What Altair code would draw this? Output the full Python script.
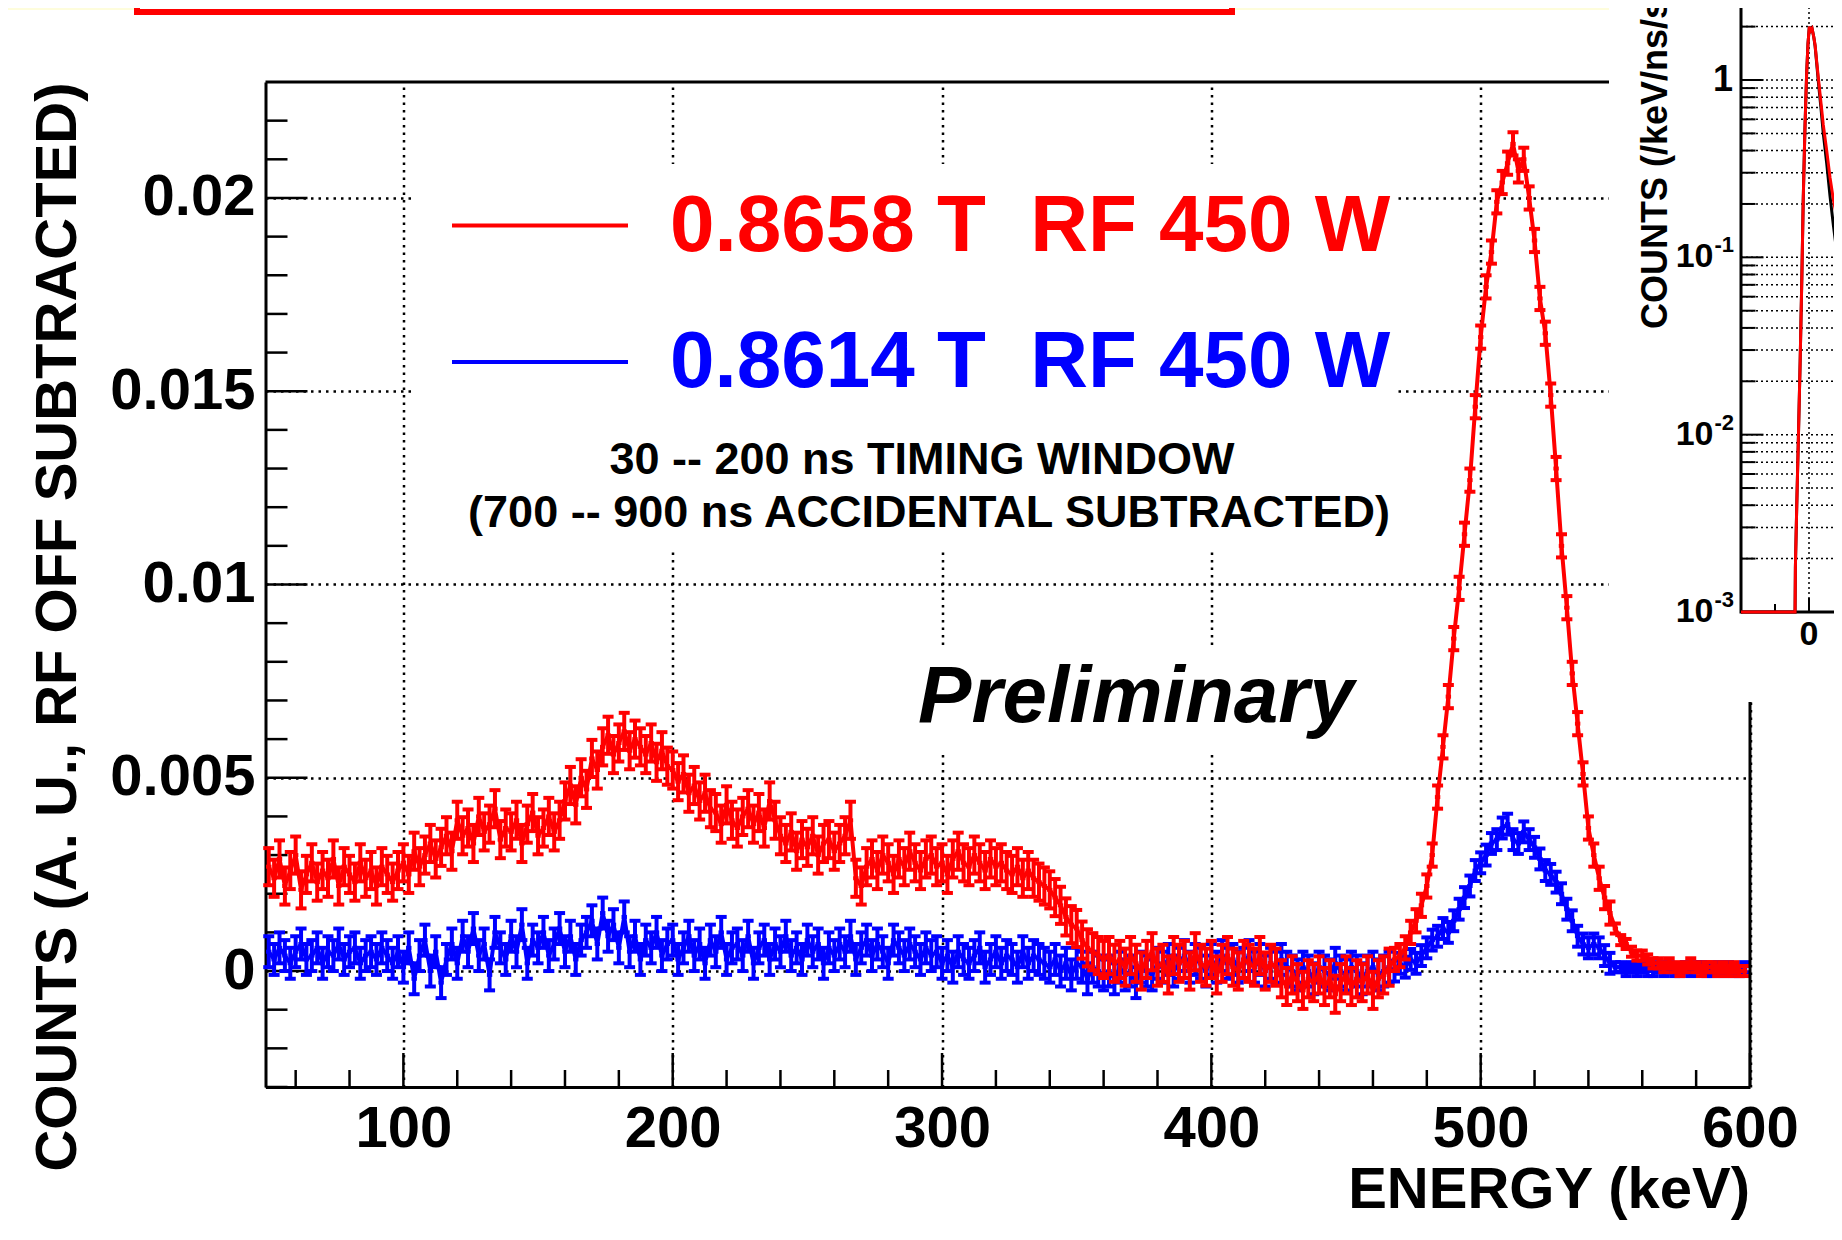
import altair as alt
import numpy as np
import pandas as pd

FONT = "Liberation Sans"

# ---------------- main spectrum data ----------------
x_domain = [48.8, 600.0]          # ENERGY (keV)
y_domain = [-0.003, 0.0230]       # COUNTS
bin_start = 50.0                  # first bin centre (keV)
bin_width = 2.0                   # keV
count_unit = 1e-4                 # values below are in units of 1e-4

# 0.8658 T  RF 450 W  (red)
red_counts = [
    27, 24, 29, 22, 26, 30, 21, 25, 28, 23, 26, 24, 29, 22, 27, 25, 23, 28, 24, 26, 22, 27, 25, 23, 26,
    28, 25, 31, 27, 30, 33, 29, 32, 35, 31,
    39, 35, 37, 33, 40, 36, 38, 42, 34, 37, 36, 39, 33, 38, 41, 35, 37, 40, 36, 39,
    44, 48, 43, 50, 47,
    55, 52, 58, 61, 56, 59, 62, 57, 60, 58,
    56, 59, 54, 57, 53,
    52, 49, 51, 46, 48, 44, 46, 42,
    41, 38, 43, 39, 37, 40, 42, 38, 41, 37, 44, 39,
    35, 33, 36, 31, 34, 32, 35, 30, 33, 34, 31, 33, 35,
    39, 24, 22,
    27, 29, 26, 30, 28, 25, 29, 27, 31, 28, 26, 29, 30, 27, 28, 25, 29, 31, 28, 27, 30, 28, 26, 29, 27, 28, 26,
    25, 27, 24, 26, 24, 23, 22,
    21, 19, 17, 14, 12, 11, 8, 6,
    5, 4, 3, 4, 2,
    3, 1, 4, 2, 0, 3, 5, 1, 2, -1, 4, 2, 3, 0, 5, 2, 1, 3, -1, 2, 4, 1, 0, 3, 2, 1, 4, 0, 2, 1,
    -2, -4, -1, -3, -5, -2, -3, -1, -4, -2, -6, -3, -1, -4, -2, -3, -1, -5, -2, -1, 1, 3,
    4, 6, 10, 13, 17, 22, 30, 45, 58, 71,
    86, 99, 113, 127, 146, 164, 177, 186, 199, 204,
    209, 214, 207, 210, 200, 189, 174, 165, 149, 130,
    110, 94, 77, 64, 51, 37, 30, 24, 19, 15,
    11, 8, 7, 5, 4, 4, 3, 2, 2, 1,
    2, 1, 0, 1, 2, 1, 0, 1, 1, 0, 1, 0, 1, 0, 0,
]

# 0.8614 T  RF 450 W  (blue)
blue_counts = [
    5, 3, 6, 4, 2, 5, 7, 3, 4, 6, 2, 5, 4, 7, 3, 5, 6, 2, 4, 5, 3, 6, 4, 2, 5,
    1, 6, -2, 4, 8, 0, 5, -3, 3, 7,
    2, 9, 5, 11, 4, 7, -1, 10, 6, 3, 9, 5, 12, 2, 8, 6, 10, 4, 7, 11, 5, 9, 3, 8, 10,
    13, 7, 15, 9, 12, 6, 14,
    5, 9, 3, 8, 6, 10, 4, 7,
    8, 3, 6, 9, 4, 7, 2, 8, 5, 10, 3, 6, 7, 4, 9, 2, 6, 8, 3, 7, 5, 9, 4, 6, 3, 8, 5, 7, 2, 6, 4,
    7, 5, 9, 3, 6, 8, 4, 7, 5, 2, 8, 6, 4, 7, 5, 3, 6, 4, 5,
    2, 4, 1, 5, 3, 2, 4, 6, 1, 3, 5, 2, 4, 3, 1, 5, 2, 4, 3, 2,
    1, 3, 0, 2, -1, 2, 1, -2, 1, 0,
    -1, 0, -2, 1, -1, 0, -3, 1, 0, -1,
    2, 1, 3, 0, 2, 4, 1, 3, 2, 0, 3, 1, 4, 2, 3, 1, 2, 4, 1, 3, 0, 2, 1, 3, 1,
    0, -1, 1, 0, -2, 1, 0, -1, 2, 0, -1, 1, 0, -2, 0, 1, -1, 0,
    1, 0, 2, 1, 3, 2,
    4, 6, 8, 9, 11, 10,
    13, 16, 19, 22, 26,
    28, 30, 33, 34, 37, 38,
    34, 33, 36, 34, 32,
    29, 26, 25, 23, 20,
    16, 13, 9, 7, 6,
    7, 6, 4,
    2, 1, 1, 0,
    1, 0, 1, 0, 0, 1, 0, 1, 0, 0, 1, 0, 1, 1, 0, 0, 1, 0, 1, 0, 0, 1,
]

# error-bar half lengths (units of 1e-4) per energy region
err_breaks = [468, 550]
red_err_levels = [4.8, 3.0, 1.3]
blue_err_levels = [4.0, 2.7, 1.3]

y_major = [0, 0.005, 0.01, 0.015, 0.02]
y_minor = [-0.003, -0.002, -0.001, 0.001, 0.002, 0.003, 0.004, 0.006, 0.007, 0.008, 0.009,
           0.011, 0.012, 0.013, 0.014, 0.016, 0.017, 0.018, 0.019, 0.021, 0.022]
x_major = [100, 200, 300, 400, 500, 600]
x_minor = [60, 80, 120, 140, 160, 180, 220, 240, 260, 280, 320, 340, 360, 380,
           420, 440, 460, 480, 520, 540, 560, 580]

legend_red = "0.8658 T\u00a0 RF 450 W"
legend_blue = "0.8614 T\u00a0 RF 450 W"
note_1 = "30 -- 200 ns TIMING WINDOW"
note_2 = "(700 -- 900 ns ACCIDENTAL SUBTRACTED)"
prelim = "Preliminary"
x_title = "ENERGY (keV)"
y_title = "COUNTS (A. U., RF OFF SUBTRACTED)"

# ---------------- inset (timing spectrum, partly visible) ----------------
inset_t = [-200, -41, -40, -36, -31, -26, -21, -17, -12, -7, -3, 1, 5, 9, 14, 18, 23, 27,
           35, 42, 52, 62, 72, 81, 90, 97, 110, 125]
inset_red = [0.001, 0.001, 0.0018, 0.004, 0.010, 0.026, 0.078, 0.21, 0.53, 1.08, 1.6, 2.0,
             1.9, 1.95, 1.75, 1.57, 1.25, 1.05, 0.75, 0.56, 0.40, 0.28, 0.21, 0.17, 0.15,
             0.14, 0.12, 0.10]
inset_black = [0.001, 0.001, 0.0018, 0.004, 0.010, 0.026, 0.078, 0.21, 0.53, 1.08, 1.6, 2.0,
               1.9, 1.95, 1.75, 1.55, 1.22, 1.0, 0.70, 0.50, 0.34, 0.22, 0.15, 0.11, 0.085,
               0.07, 0.055, 0.045]
inset_decades = [0.001, 0.01, 0.1, 1]
inset_minor = [m * d for d in [0.001, 0.01, 0.1, 1] for m in range(2, 10)]
inset_exp_vals = [0.001, 0.01, 0.1]
inset_exp_text = ["-3", "-2", "-1"]
inset_title = "COUNTS (/keV/ns/s)"

# ---------------- geometry (plot-area pixels) ----------------
W, H = 1484.5, 1005

XS = alt.Scale(domain=x_domain, nice=False, zero=False)
YS = alt.Scale(domain=y_domain, nice=False, zero=False)
IX = alt.Scale(domain=[-200, 300], range=[1475.5, 1645.5], nice=False, zero=False)
IY = alt.Scale(type="log", domain=[0.001, 1], range=[530, -2], nice=False)

one = pd.DataFrame({"k": [0]})


def hist_df(counts, levels):
    n = len(counts)
    E = bin_start + bin_width * np.arange(n)
    v = np.array(counts, dtype=float) * count_unit
    e = np.array(levels)[np.digitize(E, err_breaks)] * count_unit
    return pd.DataFrame({"E": E, "lo": E - bin_width / 2, "hi": E + bin_width / 2,
                         "v": v, "vlo": v - e, "vhi": v + e})


def series_layers(df, color):
    base = alt.Chart(df)
    line = base.mark_line(color=color, strokeWidth=4).encode(
        x=alt.X("E:Q", scale=XS, axis=None), y=alt.Y("v:Q", scale=YS, axis=None))
    hbar = base.mark_rule(color=color, strokeWidth=4).encode(
        x=alt.X("lo:Q", scale=XS, axis=None), x2="hi:Q",
        y=alt.Y("v:Q", scale=YS, axis=None))
    vbar = base.mark_rule(color=color, strokeWidth=4).encode(
        x=alt.X("E:Q", scale=XS, axis=None),
        y=alt.Y("vlo:Q", scale=YS, axis=None), y2="vhi:Q")
    cap_lo = base.mark_tick(color=color, thickness=4, size=11, orient="horizontal", opacity=1).encode(
        x=alt.X("E:Q", scale=XS, axis=None), y=alt.Y("vlo:Q", scale=YS, axis=None))
    cap_hi = base.mark_tick(color=color, thickness=4, size=11, orient="horizontal", opacity=1).encode(
        x=alt.X("E:Q", scale=XS, axis=None), y=alt.Y("vhi:Q", scale=YS, axis=None))
    return [line, hbar, vbar, cap_lo, cap_hi]


def text_layer(txt, x, y, size, color="black", align="left", baseline="middle",
               angle=None, italic=False):
    kw = dict(text=txt, font=FONT, fontSize=size, fontWeight="bold", color=color,
              align=align, baseline=baseline)
    if angle is not None:
        kw["angle"] = angle
    if italic:
        kw["fontStyle"] = "italic"
    return alt.Chart(one).mark_text(**kw).encode(x=alt.value(x), y=alt.value(y))


def rect_layer(x, x2, y, y2, fill, stroke=None, sw=0):
    kw = dict(color=fill)
    if stroke:
        kw = dict(fill=fill, stroke=stroke, strokeWidth=sw)
    return alt.Chart(one).mark_rect(**kw).encode(
        x=alt.value(x), x2=alt.value(x2), y=alt.value(y), y2=alt.value(y2))


def hline(x, x2, y, color="black", sw=3):
    return alt.Chart(one).mark_rule(color=color, strokeWidth=sw).encode(
        x=alt.value(x), x2=alt.value(x2), y=alt.value(y))


def vline(x, y, y2, color="black", sw=3):
    return alt.Chart(one).mark_rule(color=color, strokeWidth=sw).encode(
        x=alt.value(x), y=alt.value(y), y2=alt.value(y2))


common_axis = dict(labelFont=FONT, labelFontSize=58, labelFontWeight="bold", labelColor="black",
                   labelFlush=False, labelOverlap=False, ticks=False, tickSize=0,
                   domain=True, domainColor="black", domainWidth=3,
                   grid=True, gridColor="black", gridWidth=2.5, gridDash=[2.5, 5], gridOpacity=1,
                   title=None)
x_axis = alt.Axis(values=x_major, format="d", labelPadding=13, orient="bottom", **common_axis)
y_axis = alt.Axis(values=y_major, format="~g", labelPadding=10.5, orient="left", **common_axis)

# axis ticks (ROOT style, pointing inward)
xmaj = alt.Chart(pd.DataFrame({"t": x_major})).mark_rule(color="black", strokeWidth=2.5).encode(
    x=alt.X("t:Q", scale=XS, axis=x_axis), y=alt.value(H), y2=alt.value(H - 34))
xmin = alt.Chart(pd.DataFrame({"t": x_minor})).mark_rule(color="black", strokeWidth=2.5).encode(
    x=alt.X("t:Q", scale=XS, axis=None), y=alt.value(H), y2=alt.value(H - 17))
ymaj = alt.Chart(pd.DataFrame({"t": y_major})).mark_rule(color="black", strokeWidth=2.5).encode(
    y=alt.Y("t:Q", scale=YS, axis=y_axis), x=alt.value(0), x2=alt.value(42))
ymin = alt.Chart(pd.DataFrame({"t": y_minor})).mark_rule(color="black", strokeWidth=2.5).encode(
    y=alt.Y("t:Q", scale=YS, axis=None), x=alt.value(0), x2=alt.value(22))

red_df = hist_df(red_counts, red_err_levels)
blue_df = hist_df(blue_counts, blue_err_levels)

layers = [
    xmaj, ymaj, xmin, ymin,
    rect_layer(-270, 1343.5, -80, -72, "#FEFDDC"),                 # page header band
    rect_layer(-128.5, 966.5, -150, -70, "white", "#FF0000", 6),   # red header box
    rect_layer(145.5, 1132.5, 82, 470, "white"),                   # legend pad
    rect_layer(639.5, 1099.5, 563, 670, "white"),                  # "Preliminary" pad
]
layers += series_layers(blue_df, "#0000FF")
layers += series_layers(red_df, "#FF0000")
layers += [
    hline(0, 1343.5, 0, sw=3),                 # frame top
    vline(W, 620, H, sw=3),                    # frame right
    hline(186.5, 362.5, 143.5, color="#FF0000", sw=4),
    hline(186.5, 362.5, 280, color="#0000FF", sw=4),
    text_layer(legend_red, 404.5, 145, 80, color="#FF0000"),
    text_layer(legend_blue, 404.5, 281, 80, color="#0000FF"),
    text_layer(note_1, 656.5, 378, 45, align="center"),
    text_layer(note_2, 663.5, 431, 45, align="center"),
    text_layer(prelim, 870.5, 640, 80, align="center", baseline="alphabetic", italic=True),
    text_layer(x_title, W, 1109, 58, align="right"),
    text_layer(y_title, -206.5, 545, 58, align="center", angle=270),
]

# ---------------- inset layers ----------------
inset_df = pd.DataFrame({"t": inset_t, "red": inset_red, "black": inset_black})
layers += [
    rect_layer(1343.5, 1620, -90, 620, "white"),
    alt.Chart(pd.DataFrame({"g": inset_decades + inset_minor})).mark_rule(
        color="black", strokeWidth=1.5, strokeDash=[2, 3]).encode(
        y=alt.Y("g:Q", scale=IY, axis=None), x=alt.value(1475.5), x2=alt.value(1620)),
    alt.Chart(pd.DataFrame({"t": [0]})).mark_rule(
        color="black", strokeWidth=1.5, strokeDash=[2, 3]).encode(
        x=alt.X("t:Q", scale=IX, axis=None), y=alt.value(-90), y2=alt.value(530)),
    alt.Chart(pd.DataFrame({"g": inset_decades})).mark_rule(color="black", strokeWidth=2).encode(
        y=alt.Y("g:Q", scale=IY, axis=None), x=alt.value(1475.5), x2=alt.value(1498)),
    alt.Chart(pd.DataFrame({"g": inset_minor})).mark_rule(color="black", strokeWidth=2).encode(
        y=alt.Y("g:Q", scale=IY, axis=None), x=alt.value(1475.5), x2=alt.value(1490)),
    alt.Chart(pd.DataFrame({"t": [0]})).mark_rule(color="black", strokeWidth=2).encode(
        x=alt.X("t:Q", scale=IX, axis=None), y=alt.value(530), y2=alt.value(516)),
    alt.Chart(pd.DataFrame({"t": [-100]})).mark_rule(color="black", strokeWidth=2).encode(
        x=alt.X("t:Q", scale=IX, axis=None), y=alt.value(530), y2=alt.value(522)),
    vline(1475.5, -90, 531.5, sw=3),
    hline(1475.5, 1620, 530, sw=3),
    alt.Chart(inset_df).mark_line(color="black", strokeWidth=3).encode(
        x=alt.X("t:Q", scale=IX, axis=None), y=alt.Y("black:Q", scale=IY, axis=None)),
    alt.Chart(inset_df).mark_line(color="#FF0000", strokeWidth=3).encode(
        x=alt.X("t:Q", scale=IX, axis=None), y=alt.Y("red:Q", scale=IY, axis=None)),
    alt.Chart(pd.DataFrame({"v": [1]})).mark_text(
        text="1", font=FONT, fontSize=36, fontWeight="bold", color="black",
        align="right", baseline="middle").encode(
        y=alt.Y("v:Q", scale=IY, axis=None), x=alt.value(1467.5)),
    alt.Chart(pd.DataFrame({"v": inset_exp_vals})).mark_text(
        text="10", font=FONT, fontSize=34, fontWeight="bold", color="black",
        align="right", baseline="middle").encode(
        y=alt.Y("v:Q", scale=IY, axis=None), x=alt.value(1448)),
    alt.Chart(pd.DataFrame({"v": inset_exp_vals, "s": inset_exp_text})).mark_text(
        font=FONT, fontSize=22, fontWeight="bold", color="black",
        align="left", baseline="middle", dy=-12).encode(
        y=alt.Y("v:Q", scale=IY, axis=None), text="s:N", x=alt.value(1449)),
    alt.Chart(pd.DataFrame({"t": [0]})).mark_text(
        text="0", font=FONT, fontSize=34, fontWeight="bold", color="black",
        align="center", baseline="middle").encode(
        x=alt.X("t:Q", scale=IX, axis=None), y=alt.value(553)),
    text_layer(inset_title, 1390.5, 247, 36, align="left", angle=270),
]

chart = alt.layer(*layers).resolve_scale(
    x="independent", y="independent"
).properties(
    width=W, height=H,
    autosize=alt.AutoSizeParams(type="none"),
    padding={"left": 257.5, "top": 74, "right": 84, "bottom": 145},
    background="white",
).configure_view(stroke=None)

chart.save("out.html", embed_options={"renderer": "svg", "actions": False})
